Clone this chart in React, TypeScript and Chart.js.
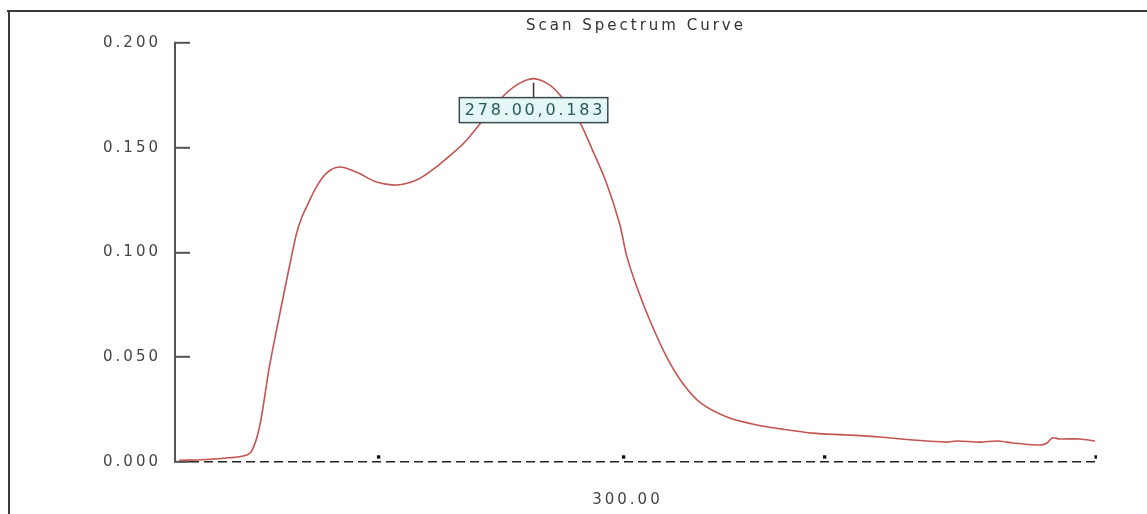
import React, { useEffect, useRef } from "react";
import { Chart, registerables } from "chart.js";

Chart.register(...registerables);

// Wavelength (nm) of each sample along the scan
const wavelengths = [
  195.0, 201.3, 206.7, 210.2, 211.9, 213.8, 216.1, 218.4, 220.3, 221.1,
  222.4, 223.6, 224.8, 227.1, 229.5, 232.5, 236.5, 241.2, 245.9, 250.6,
  254.3, 259.9, 262.3, 270.0, 274.0, 278.0, 281.8, 284.8, 288.8, 291.8,
  295.1, 298.2, 299.8, 302.2, 305.2, 309.2, 312.9, 316.9, 323.3, 330.3,
  336.0, 343.4, 351.4, 359.1, 366.9, 374.8, 377.2, 382.6, 386.6, 390.3,
  396.6, 398.3, 399.5, 401.3, 406.0, 409.5,
];

// Absorbance at each wavelength
const absorbance = [
  0.0008, 0.0012, 0.002, 0.003, 0.005, 0.0167, 0.0453, 0.0692, 0.0883, 0.0962,
  0.1085, 0.1162, 0.1217, 0.1312, 0.1379, 0.1408, 0.1384, 0.1336, 0.1322, 0.1346,
  0.1394, 0.1489, 0.1536, 0.1727, 0.1799, 0.183, 0.1799, 0.1737, 0.1622, 0.1489,
  0.1331, 0.1135, 0.0985, 0.0835, 0.0678, 0.0501, 0.0377, 0.0286, 0.0215, 0.0177,
  0.0158, 0.0138, 0.0129, 0.0119, 0.0105, 0.0095, 0.01, 0.0095, 0.01, 0.0091,
  0.0081, 0.0091, 0.0115, 0.011, 0.011, 0.01,
];

// Small square markers sitting on the baseline
const markerWavelengths = [241.7, 299.1, 346.2, 409.8];
const markerValues = [0.0024, 0.0024, 0.0024, 0.0024];

const xTickValues = [300];
const yTickValues = [0, 0.05, 0.1, 0.15, 0.2];

const X_MIN = 194;
const X_MAX = 410;
const Y_MIN = 0;
const Y_MAX = 0.2;

const FONT = "'DejaVu Sans', Verdana, sans-serif";

const spacingPlugin = {
  id: "letterSpacing",
  beforeUpdate(chart: any) {
    chart.ctx.letterSpacing = "3px";
  },
  beforeDraw(chart: any) {
    chart.ctx.letterSpacing = "3px";
  },
};

const peakPlugin = {
  id: "peakLabel",
  afterDatasetsDraw(chart: any) {
    const ctx = chart.ctx;
    let idx = 0;
    absorbance.forEach((v, i) => {
      if (v > absorbance[idx]) idx = i;
    });
    const xs = chart.scales.x;
    const ys = chart.scales.y;
    const px = xs.getPixelForValue(wavelengths[idx]);
    const py = ys.getPixelForValue(absorbance[idx]);
    const text = `${wavelengths[idx].toFixed(2)},${absorbance[idx].toFixed(3)}`;
    ctx.save();
    ctx.letterSpacing = "2.8px";
    ctx.font = `16px ${FONT}`;
    const w = ctx.measureText(text).width + 8;
    const h = 25;
    const bx = px - w / 2;
    const by = py + 19;
    ctx.strokeStyle = "#333";
    ctx.lineWidth = 1.5;
    ctx.beginPath();
    ctx.moveTo(px, py + 4);
    ctx.lineTo(px, by);
    ctx.stroke();
    ctx.fillStyle = "#e4f6f6";
    ctx.fillRect(bx, by, w, h);
    ctx.strokeStyle = "#3c4c4c";
    ctx.strokeRect(bx, by, w, h);
    ctx.fillStyle = "#2b5a5a";
    ctx.textAlign = "center";
    ctx.textBaseline = "middle";
    ctx.fillText(text, px + 1.5, by + h / 2 + 1);
    ctx.restore();
  },
};

export default function App() {
  const canvasRef = useRef<HTMLCanvasElement | null>(null);

  useEffect(() => {
    if (!canvasRef.current) return;
    const chart = new Chart(canvasRef.current, {
      type: "line",
      data: {
        datasets: [
          {
            label: "Scan",
            data: wavelengths.map((x, i) => ({ x, y: absorbance[i] })),
            borderColor: "#c45452",
            borderWidth: 1.6,
            pointRadius: 0,
            tension: 0.3,
            fill: false,
          },
          {
            label: "Markers",
            data: markerWavelengths.map((x, i) => ({ x, y: markerValues[i] })),
            showLine: false,
            pointStyle: "rect",
            pointRadius: 2.4,
            pointBackgroundColor: "#111",
            pointBorderColor: "#111",
            pointBorderWidth: 0,
          },
        ],
      },
      options: {
        responsive: false,
        animation: false,
        devicePixelRatio: 1,
        layout: { padding: { top: 0, right: 50, bottom: 0, left: 0 } },
        plugins: {
          legend: { display: false },
          tooltip: { enabled: false },
          title: {
            display: true,
            text: "Scan Spectrum Curve",
            fullSize: false,
            color: "#333",
            font: { family: FONT, size: 15, weight: "normal" },
            padding: { top: 17, bottom: 8 },
          },
        },
        scales: {
          x: {
            type: "linear",
            min: X_MIN,
            max: X_MAX,
            afterBuildTicks: (s: any) => {
              s.ticks = xTickValues.map((v) => ({ value: v }));
            },
            afterFit: (s: any) => {
              s.height = 52;
            },
            ticks: {
              color: "#444",
              font: { family: FONT, size: 15 },
              padding: 29,
              callback: (v: any) => Number(v).toFixed(2),
            },
            grid: { display: false, drawOnChartArea: false, drawTicks: false },
            border: { display: false },
          },
          y: {
            type: "linear",
            min: Y_MIN,
            max: Y_MAX,
            afterBuildTicks: (s: any) => {
              s.ticks = yTickValues.map((v) => ({ value: v }));
            },
            afterFit: (s: any) => {
              s.width = 175;
            },
            ticks: {
              color: "#444",
              font: { family: FONT, size: 15 },
              padding: 29,
              callback: (v: any) => Number(v).toFixed(3),
            },
            grid: {
              display: true,
              drawOnChartArea: true,
              drawTicks: true,
              tickLength: -15,
              tickColor: "#555",
              tickWidth: 2,
              tickBorderDash: [],
              color: (c: any) =>
                c.tick && c.tick.value === 0 ? "#222" : "rgba(0,0,0,0)",
              lineWidth: 1.6,
            },
            border: { display: true, color: "#555", width: 2, dash: [9, 5] },
          },
        },
      },
      plugins: [spacingPlugin, peakPlugin],
    } as any);
    return () => chart.destroy();
  }, []);

  return (
    <div
      style={{
        position: "fixed",
        left: 0,
        top: 0,
        width: 1147,
        height: 514,
        background: "#fff",
        overflow: "hidden",
      }}
    >
      <canvas
        ref={canvasRef}
        width={1147}
        height={514}
        style={{ display: "block", position: "absolute", left: 0, top: 0 }}
      />
      <div
        style={{
          position: "absolute",
          left: 7,
          top: 10,
          width: 1140,
          height: 2,
          background: "#3a3a3a",
        }}
      />
      <div
        style={{
          position: "absolute",
          left: 8,
          top: 10,
          width: 2,
          height: 504,
          background: "#3a3a3a",
        }}
      />
    </div>
  );
}
